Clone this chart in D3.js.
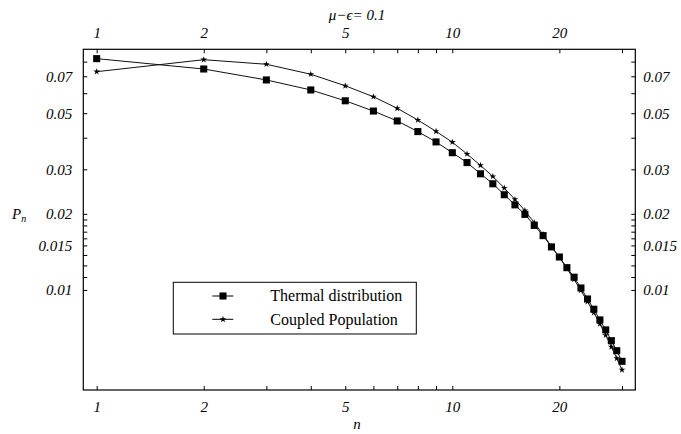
<!DOCTYPE html>
<html>
<head>
<meta charset="utf-8">
<script src="https://cdn.jsdelivr.net/npm/d3@7"></script>
<style>
  body { margin: 0; background: #fff; }
  svg { display: block; }
</style>
</head>
<body>
<div id="chart"></div>
<script>
// values
const nValues = [1, 2, 3, 4, 5, 6, 7, 8, 9, 10, 11, 12, 13, 14, 15,
                 16, 17, 18, 19, 20, 21, 22, 23, 24, 25, 26, 27, 28, 29, 30];
const thermal = [0.0822, 0.0748, 0.0677, 0.0618, 0.0560, 0.0510, 0.0466, 0.0423, 0.0385, 0.0349,
                 0.0319, 0.0288, 0.0263, 0.0238, 0.0217, 0.0199, 0.0180, 0.0164, 0.0148, 0.0135,
                 0.01225, 0.01123, 0.01018, 0.00921, 0.00839, 0.00761, 0.00695, 0.00630, 0.00575, 0.00522];
const coupled = [0.0730, 0.0814, 0.0781, 0.0713, 0.0642, 0.0581, 0.0523, 0.0470, 0.0424, 0.0384,
                 0.0345, 0.0311, 0.0281, 0.0253, 0.0228, 0.0206, 0.01845, 0.01658, 0.01485, 0.01345,
                 0.01216, 0.01100, 0.00995, 0.00899, 0.00813, 0.00734, 0.00662, 0.00595, 0.00536, 0.00483];

const xMajor = [1, 2, 5, 10, 20];
const xMinor = [3, 4, 6, 7, 8, 9, 30];
const yMajor = [0.01, 0.015, 0.02, 0.03, 0.05, 0.07];
const yMinor = [0.01125, 0.0125, 0.01375, 0.016, 0.017, 0.018, 0.019, 0.04, 0.06, 0.08];
const seriesNames = ["Thermal distribution", "Coupled Population"];
const title = "\u03bc\u2212\u03f5= 0.1";

const serif = "'Liberation Serif', 'DejaVu Serif', serif";

const W = 681, H = 434;
const margin = {top: 49.3, right: 45.7, bottom: 44, left: 83.3};
const width = W - margin.left - margin.right;
const height = H - margin.top - margin.bottom;

const svg = d3.select("#chart").append("svg")
    .attr("width", W)
    .attr("height", H);

const g = svg.append("g")
    .attr("transform", `translate(${margin.left},${margin.top})`);

const x = d3.scaleLog().domain([0.917, 32.7]).range([0, width]);
const y = d3.scaleLog().domain([0.00402, 0.0895]).range([height, 0]);

const xFmt = d => xMajor.includes(d) ? String(d) : "";
const yFmt = d => yMajor.includes(d) ? String(d) : "";
const xTicks = xMajor.concat(xMinor);
const yTicks = yMajor.concat(yMinor);

function styleAxis(sel) {
    sel.attr("font-family", serif)
        .attr("font-size", 15)
        .attr("font-style", "italic");
    sel.select(".domain").remove();
    sel.selectAll(".tick line").attr("stroke", "#000").attr("stroke-width", 1);
    sel.selectAll(".tick text").attr("fill", "#000");
}

g.append("g")
    .attr("transform", `translate(0,${height})`)
    .call(d3.axisBottom(x).tickValues(xTicks).tickFormat(xFmt).tickSize(-4).tickPadding(11))
    .call(styleAxis);

g.append("g")
    .call(d3.axisTop(x).tickValues(xTicks).tickFormat(xFmt).tickSize(-4).tickPadding(11))
    .call(styleAxis);

g.append("g")
    .call(d3.axisLeft(y).tickValues(yTicks).tickFormat(yFmt).tickSize(-4).tickPadding(11))
    .call(styleAxis);

g.append("g")
    .attr("transform", `translate(${width},0)`)
    .call(d3.axisRight(y).tickValues(yTicks).tickFormat(yFmt).tickSize(-4).tickPadding(8))
    .call(styleAxis);

// frame
g.append("rect")
    .attr("width", width)
    .attr("height", height)
    .attr("fill", "none")
    .attr("stroke", "#000")
    .attr("stroke-width", 1.2);

const line = d3.line()
    .x((d, i) => x(nValues[i]))
    .y(d => y(d));

const square = d3.symbol().type(d3.symbolSquare).size(50);
const star = d3.symbol().type(d3.symbolStar).size(14);

[thermal, coupled].forEach((vals, k) => {
    g.append("path")
        .datum(vals)
        .attr("fill", "none")
        .attr("stroke", "#111")
        .attr("stroke-width", 1)
        .attr("d", line);

    g.selectAll(".mk" + k)
        .data(vals)
        .enter()
        .append("path")
        .attr("class", "mk" + k)
        .attr("transform", (d, i) => `translate(${x(nValues[i])},${y(d)})`)
        .attr("fill", "#000")
        .attr("d", k === 0 ? square : star);
});

// legend
const legend = svg.append("g").attr("transform", "translate(173.3,282.3)");
legend.append("rect")
    .attr("width", 243)
    .attr("height", 51.7)
    .attr("fill", "#fff")
    .attr("stroke", "#000")
    .attr("stroke-width", 1);

seriesNames.forEach((name, i) => {
    const row = legend.append("g").attr("transform", `translate(0,${13.7 + i * 23.3})`);
    row.append("line")
        .attr("x1", 39).attr("x2", 60)
        .attr("stroke", "#000").attr("stroke-width", 1);
    row.append("path")
        .attr("transform", "translate(49.7,0)")
        .attr("d", i === 0 ? square : star);
    row.append("text")
        .attr("x", 97)
        .attr("dy", "0.33em")
        .style("font-family", serif)
        .style("font-size", "16px")
        .text(name);
});

// axis titles
svg.append("text")
    .attr("x", 357)
    .attr("y", 20)
    .attr("text-anchor", "middle")
    .style("font-family", serif)
    .style("font-style", "italic")
    .style("font-size", "15px")
    .text(title);

svg.append("text")
    .attr("x", 357)
    .attr("y", 429)
    .attr("text-anchor", "middle")
    .style("font-family", serif)
    .style("font-style", "italic")
    .style("font-size", "15px")
    .text("n");

const pn = svg.append("text")
    .attr("x", 12)
    .attr("y", 219)
    .style("font-family", serif)
    .style("font-style", "italic")
    .style("font-size", "15px");
pn.append("tspan").text("P");
pn.append("tspan").attr("dy", 3).style("font-size", "10px").text("n");
</script>
</body>
</html>
